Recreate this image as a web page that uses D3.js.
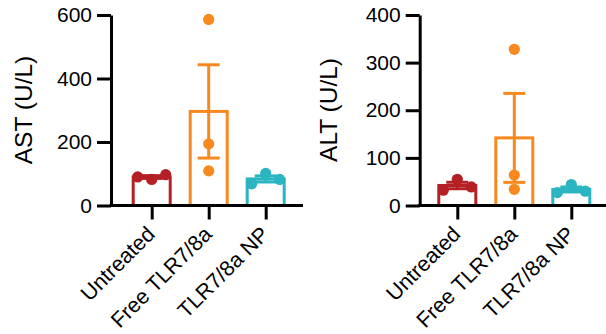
<!DOCTYPE html>
<html>
<head>
<meta charset="utf-8">
<script src="https://cdn.jsdelivr.net/npm/d3@7"></script>
<style>
  body { margin: 0; background: #fff; }
  svg { display: block; font-family: "Liberation Sans", Arial, sans-serif; }
</style>
</head>
<body>
<script>
// groups and colours
var groups = ['Untreated', 'Free TLR7/8a', 'TLR7/8a NP']
var groupColors = ['#b52025', '#f7891f', '#2ab5c1']

// individual animals
var astPoints = [[82, 90, 97], [586, 194, 109], [101, 68, 82]]
var altPoints = [[55, 32, 39], [328, 64, 34], [44, 27, 30]]

var astTicks = [0, 200, 400, 600]
var altTicks = [0, 100, 200, 300, 400]

var config = {
  barWidth: 37,
  capWidth: 22,
  dotRadius: 5.6,
  stroke: 3,
  top: 15,
  bottom: 205.5
}

var svg = d3.select('body').append('svg').
  attr('width', 606).
  attr('height', 334)

function drawPanel (opts) {
  var g = svg.append('g')

  var y = d3.scaleLinear().domain([0, opts.max]).range([config.bottom, config.top])
  var x = d3.scalePoint().domain(groups).range(opts.xRange)

  var stats = opts.points.map(function (pts, i) {
    return {
      group: groups[i],
      color: groupColors[i],
      mean: d3.mean(pts),
      sem: d3.deviation(pts) / Math.sqrt(pts.length),
      pts: pts
    }
  })

  // bars
  g.selectAll('rect.bar').data(stats).enter().append('rect').
    attr('class', 'bar').
    attr('x', function (d) { return x(d.group) - config.barWidth / 2 }).
    attr('width', config.barWidth).
    attr('y', function (d) { return y(d.mean) }).
    attr('height', function (d) { return y(0) - y(d.mean) }).
    attr('fill', 'none').
    attr('stroke', function (d) { return d.color }).
    attr('stroke-width', config.stroke)

  // error bars (mean +/- SEM)
  var eb = g.selectAll('g.err').data(stats).enter().append('g').
    attr('stroke', function (d) { return d.color }).
    attr('stroke-width', config.stroke)
  eb.append('line').
    attr('x1', function (d) { return x(d.group) }).
    attr('x2', function (d) { return x(d.group) }).
    attr('y1', function (d) { return y(d.mean - d.sem) }).
    attr('y2', function (d) { return y(d.mean + d.sem) })
  ;[-1, 1].forEach(function (s) {
    eb.append('line').
      attr('x1', function (d) { return x(d.group) - config.capWidth / 2 }).
      attr('x2', function (d) { return x(d.group) + config.capWidth / 2 }).
      attr('y1', function (d) { return y(d.mean + s * d.sem) }).
      attr('y2', function (d) { return y(d.mean + s * d.sem) })
  })

  // dots, spread sideways when they overlap
  stats.forEach(function (d) {
    var placed = []
    d.pts.forEach(function (v) {
      var py = y(v)
      var offsets = [0, -14, 14, -28, 28]
      var dx = 0
      for (var k = 0; k < offsets.length; k++) {
        var ok = placed.every(function (p) {
          var ddx = p.dx - offsets[k], ddy = p.y - py
          return Math.sqrt(ddx * ddx + ddy * ddy) >= config.dotRadius * 2
        })
        if (ok) { dx = offsets[k]; break }
      }
      placed.push({ dx: dx, y: py })
      g.append('circle').
        attr('cx', x(d.group) + dx).
        attr('cy', py).
        attr('r', config.dotRadius).
        attr('fill', d.color)
    })
  })

  // y axis
  var yAxis = g.append('g').
    attr('transform', 'translate(' + opts.axisX + ',0)').
    call(d3.axisLeft(y).tickValues(opts.ticks).tickSize(14).tickPadding(5).tickSizeOuter(0))
  yAxis.select('.domain').attr('stroke-width', config.stroke)
  yAxis.selectAll('.tick line').attr('stroke-width', config.stroke)
  yAxis.selectAll('.tick text').attr('font-size', 21).attr('font-family', null).attr('fill', '#000')

  // x axis
  var xAxis = g.append('g').
    attr('transform', 'translate(0,' + config.bottom + ')').
    call(d3.axisBottom(x).tickSize(14).tickSizeOuter(0))
  xAxis.select('.domain').remove()
  xAxis.append('line').
    attr('x1', opts.axisX - 1.5).
    attr('x2', opts.axisEnd).
    attr('stroke', '#000').
    attr('stroke-width', config.stroke)
  xAxis.selectAll('.tick line').attr('stroke-width', config.stroke)
  xAxis.selectAll('.tick text').
    attr('font-size', 21.5).
    attr('font-family', null).
    attr('fill', '#000').
    attr('text-anchor', 'end').
    attr('y', 0).
    attr('dy', 0).
    attr('transform', 'translate(4,30) rotate(-45)')

  // axis title
  g.append('text').
    attr('transform', 'translate(' + opts.titleX + ',110) rotate(-90)').
    attr('text-anchor', 'middle').
    attr('font-size', 24.5).
    text(opts.title)
}

drawPanel({
  title: 'AST (U/L)',
  points: astPoints,
  ticks: astTicks,
  max: 600,
  axisX: 111,
  axisEnd: 303,
  xRange: [151.7, 265.7],
  titleX: 32
})

drawPanel({
  title: 'ALT (U/L)',
  points: altPoints,
  ticks: altTicks,
  max: 400,
  axisX: 419.7,
  axisEnd: 606,
  xRange: [457.3, 571.3],
  titleX: 336.5
})
</script>
</body>
</html>
